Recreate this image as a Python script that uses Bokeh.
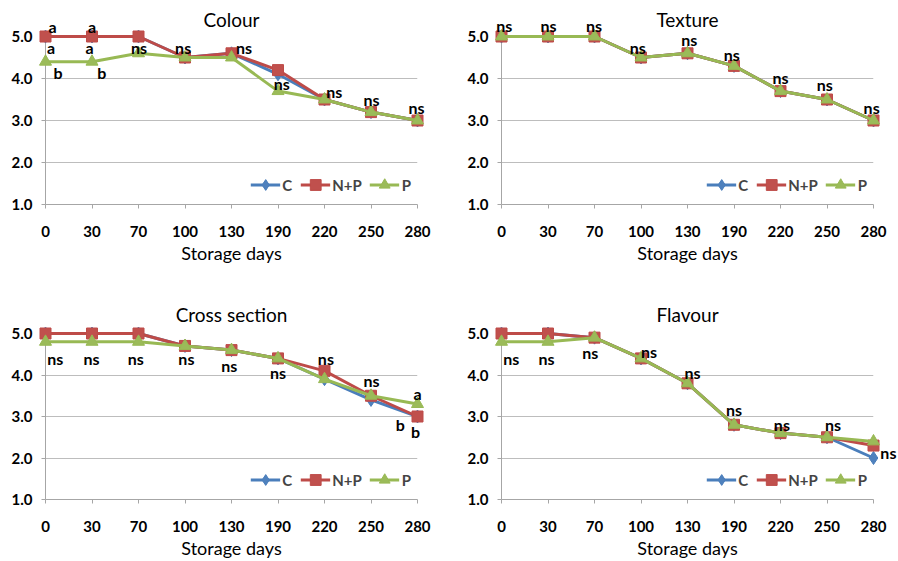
from bokeh.plotting import figure
from bokeh.models import Range1d, FixedTicker, NumeralTickFormatter
from bokeh.layouts import column, row
from bokeh.embed import file_html
from bokeh.resources import INLINE
from bokeh.core.properties import value

# ---------------- data ----------------
days = ["0", "30", "70", "100", "130", "190", "220", "250", "280"]
series_names = ["C", "N+P", "P"]
y_ticks = [1, 2, 3, 4, 5]

colour_C = [5.0, 5.0, 5.0, 4.5, 4.6, 4.1, 3.5, 3.2, 3.0]
colour_NP = [5.0, 5.0, 5.0, 4.5, 4.6, 4.2, 3.5, 3.2, 3.0]
colour_P = [4.4, 4.4, 4.6, 4.5, 4.5, 3.7, 3.5, 3.2, 3.0]

texture_C = [5.0, 5.0, 5.0, 4.5, 4.6, 4.3, 3.7, 3.5, 3.0]
texture_NP = [5.0, 5.0, 5.0, 4.5, 4.6, 4.3, 3.7, 3.5, 3.0]
texture_P = [5.0, 5.0, 5.0, 4.5, 4.6, 4.3, 3.7, 3.5, 3.0]

cross_C = [5.0, 5.0, 5.0, 4.7, 4.6, 4.4, 3.9, 3.4, 3.0]
cross_NP = [5.0, 5.0, 5.0, 4.7, 4.6, 4.4, 4.1, 3.5, 3.0]
cross_P = [4.8, 4.8, 4.8, 4.7, 4.6, 4.4, 3.9, 3.5, 3.3]

flavour_C = [5.0, 5.0, 4.9, 4.4, 3.8, 2.8, 2.6, 2.5, 2.0]
flavour_NP = [5.0, 5.0, 4.9, 4.4, 3.8, 2.8, 2.6, 2.5, 2.3]
flavour_P = [4.8, 4.8, 4.9, 4.4, 3.8, 2.8, 2.6, 2.5, 2.4]

# significance letters (anchored on the category scale / score scale)
colour_note_x = [0.15, 0.12, 0.27, 1.0, 0.95, 1.21, 2.01, 2.96, 4.27, 5.08, 6.21, 7.01, 7.98]
colour_note_y = [5.24, 4.75, 4.15, 5.24, 4.75, 4.15, 4.75, 4.75, 4.75, 3.87, 3.70, 3.49, 3.32]
colour_note_text = ["a", "a", "b", "a", "a", "b", "ns", "ns", "ns", "ns", "ns", "ns", "ns"]

texture_note_x = [0.06, 1.01, 1.99, 2.93, 4.04, 4.95, 6.0, 6.95, 7.96]
texture_note_y = [5.26, 5.26, 5.26, 4.73, 4.92, 4.57, 4.03, 3.85, 3.32]
texture_note_text = ["ns"] * 9

cross_note_x = [0.21, 0.99, 1.94, 3.03, 3.95, 5.0, 6.03, 7.01, 8.0, 7.63, 7.96]
cross_note_y = [4.39, 4.39, 4.39, 4.39, 4.23, 4.05, 4.39, 3.87, 3.56, 2.80, 2.64]
cross_note_text = ["ns", "ns", "ns", "ns", "ns", "ns", "ns", "ns", "a", "b", "b"]

flavour_note_x = [0.21, 0.97, 1.91, 3.17, 4.11, 5.0, 6.03, 7.13, 8.32]
flavour_note_y = [4.39, 4.39, 4.55, 4.56, 4.05, 3.17, 2.80, 2.80, 2.14]
flavour_note_text = ["ns"] * 9

# ---------------- styles ----------------
FONT = "Lato"
LINE_COLORS = ["#4A7EBB", "#BE4B48", "#98B954"]
FILL_COLORS = ["#4F81BD", "#C0504D", "#9BBB59"]
MARKERS = ["diamond", "square", "triangle"]
SIZES = [13, 11, 12]
AXIS_COLOR = "#a6a6a6"
GRID_COLOR = "#bdbdbd"


def make_panel(title, series, note_x, note_y, note_text, width, height,
               b_left, b_right, b_top, b_bottom, title_standoff):
    p = figure(width=width, height=height, output_backend="svg", toolbar_location=None,
               x_range=Range1d(0, len(days) - 1), y_range=Range1d(y_ticks[0], y_ticks[-1]),
               min_border_left=b_left, min_border_right=b_right,
               min_border_top=b_top, min_border_bottom=b_bottom,
               title=title)
    p.outline_line_color = None
    p.background_fill_color = "white"
    p.border_fill_color = "white"

    p.title.text_font = FONT
    p.title.text_font_size = "19px"
    p.title.text_font_style = "normal"
    p.title.align = "center"
    p.title.standoff = title_standoff
    p.title.text_color = "black"

    xs = list(range(len(days)))
    p.xaxis.ticker = FixedTicker(ticks=xs)
    p.xaxis.major_label_overrides = {i: d for i, d in enumerate(days)}
    p.xaxis.axis_label = "Storage days"
    p.yaxis.ticker = FixedTicker(ticks=y_ticks)
    p.yaxis.formatter = NumeralTickFormatter(format="0.0")

    for ax in (p.xaxis, p.yaxis):
        ax.axis_line_color = AXIS_COLOR
        ax.major_tick_line_color = AXIS_COLOR
        ax.major_tick_out = 4
        ax.major_tick_in = 0
        ax.minor_tick_line_color = None
        ax.major_label_text_font = FONT
        ax.major_label_text_font_style = "bold"
        ax.major_label_text_font_size = "15px"
        ax.major_label_text_color = "black"
    p.xaxis.major_label_standoff = 17
    p.yaxis.major_label_standoff = 9
    p.xaxis.axis_label_text_font = FONT
    p.xaxis.axis_label_text_font_style = "normal"
    p.xaxis.axis_label_text_font_size = "18px"
    p.xaxis.axis_label_text_color = "black"
    p.xaxis.axis_label_standoff = 2

    p.xgrid.grid_line_color = None
    p.ygrid.grid_line_color = GRID_COLOR
    p.ygrid.grid_line_width = 1

    for name, ys, lc, fc, mk, sz in zip(series_names, series, LINE_COLORS, FILL_COLORS, MARKERS, SIZES):
        r1 = p.line(xs, ys, line_color=lc, line_width=3, legend_label=name)
        r2 = p.scatter(xs, ys, marker=mk, size=sz, fill_color=fc, line_color=lc,
                       line_width=1, legend_label=name)
        r1.level = "overlay"
        r2.level = "overlay"

    t = p.text(note_x, note_y, text=note_text, text_font=value(FONT), text_font_style="bold",
               text_font_size="16px", text_color="black", text_align="center",
               text_baseline="middle")
    t.level = "overlay"

    lg = p.legend[0]
    lg.orientation = "horizontal"
    lg.location = "bottom_right"
    lg.border_line_color = None
    lg.background_fill_alpha = 0
    lg.label_text_font = FONT
    lg.label_text_font_style = "bold"
    lg.label_text_font_size = "15px"
    lg.label_standoff = 2
    lg.label_width = 5
    lg.glyph_width = 30
    lg.glyph_height = 27
    lg.spacing = 8
    lg.padding = 0
    lg.margin = 6
    return p


top = dict(height=290, b_top=36, b_bottom=86, title_standoff=11)
bottom = dict(height=271, b_top=43, b_bottom=60, title_standoff=15)
left = dict(width=449, b_left=45, b_right=32)
right = dict(width=449, b_left=52, b_right=25)

p1 = make_panel("Colour", [colour_C, colour_NP, colour_P],
                colour_note_x, colour_note_y, colour_note_text, **top, **left)
p2 = make_panel("Texture", [texture_C, texture_NP, texture_P],
                texture_note_x, texture_note_y, texture_note_text, **top, **right)
p3 = make_panel("Cross section", [cross_C, cross_NP, cross_P],
                cross_note_x, cross_note_y, cross_note_text, **bottom, **left)
p4 = make_panel("Flavour", [flavour_C, flavour_NP, flavour_P],
                flavour_note_x, flavour_note_y, flavour_note_text, **bottom, **right)

layout = column(row(p1, p2), row(p3, p4))

open("out.html", "w").write(file_html(layout, INLINE))
